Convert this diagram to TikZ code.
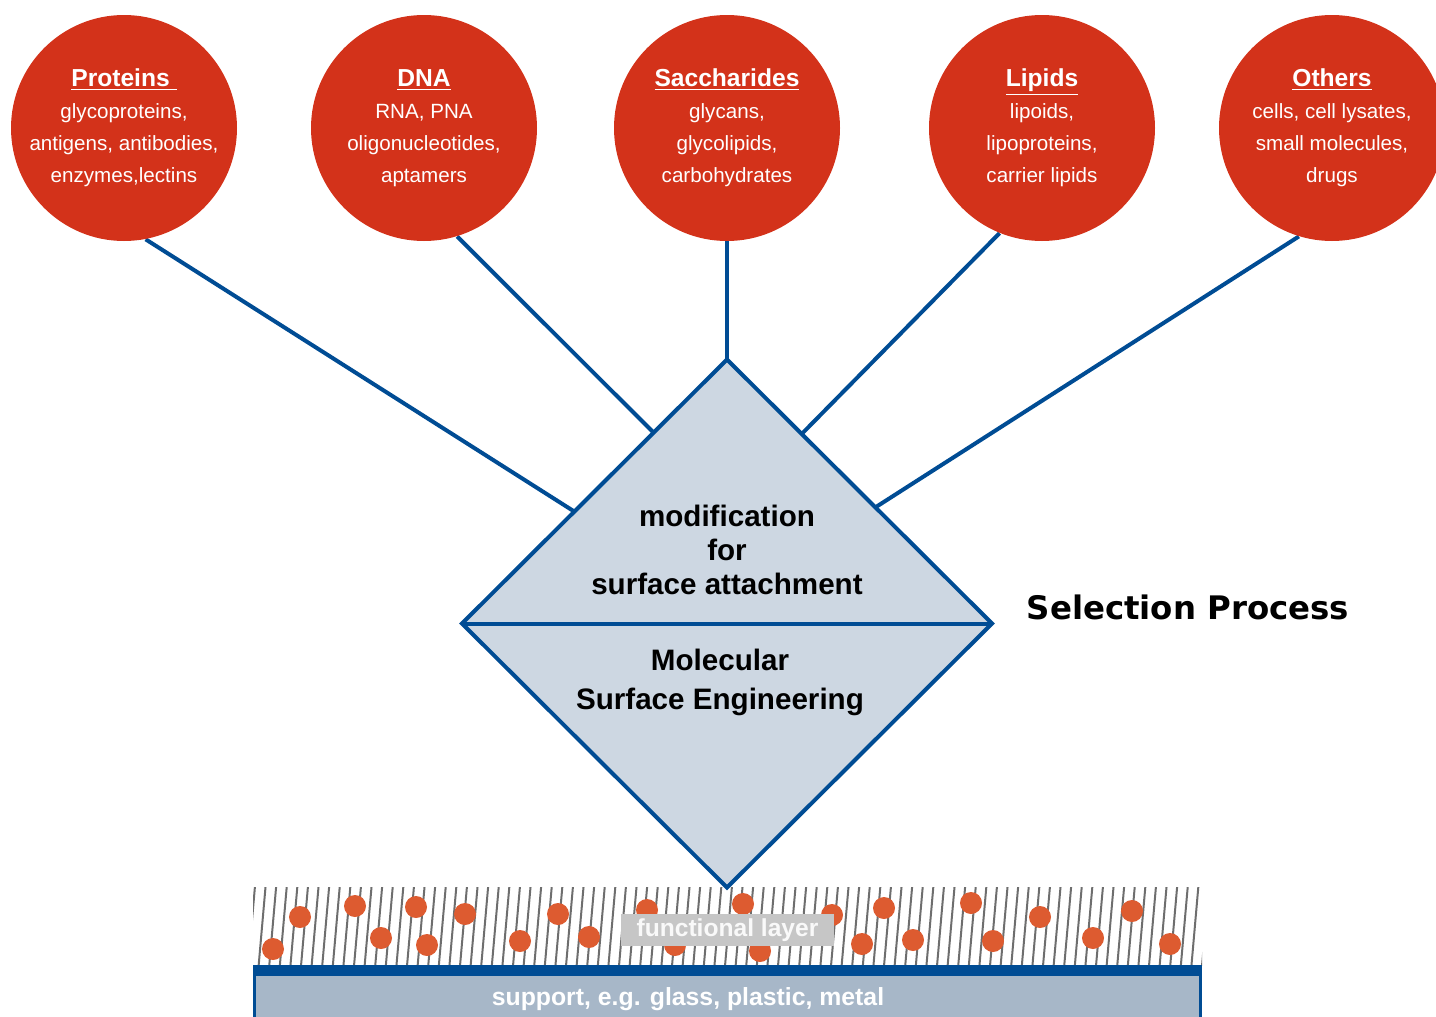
\documentclass[tikz,border=0pt]{standalone}
\usepackage{fontspec}
\setmainfont{Liberation Sans}
\newfontfamily\procfont{DejaVu Sans}
\usepackage{tikz}
\usetikzlibrary{shapes.geometric,calc,backgrounds}
\definecolor{molred}{HTML}{D3321A}
\definecolor{accent}{HTML}{004C94}
\definecolor{msefill}{HTML}{CDD7E2}
\definecolor{hatchgray}{HTML}{6E6E6E}
\definecolor{dotfill}{HTML}{DD5B30}
\definecolor{labelgray}{HTML}{C6C6C6}
\definecolor{supfill}{HTML}{A7B7C8}
\tikzset{
  % --- molecule classes (red discs) ---
  molclass/.style={circle, fill=molred, minimum size=113pt, inner sep=0pt,
                   text=white, align=center, font=\fontsize{10.3}{16}\selectfont},
  % --- connectors into the diamond ---
  link/.style={draw=accent, line width=2pt},
  % --- the diamond and its texts ---
  msebox/.style={diamond, draw=accent, line width=2pt, fill=msefill, aspect=1,
                 minimum width=265pt, minimum height=264pt, inner sep=0pt,
                 outer sep=0pt},
  msetext/.style={align=center, text=black, inner sep=0pt,
                  font=\bfseries\fontsize{14.8}{16.8}\selectfont},
  msetext2/.style={msetext, font=\bfseries\fontsize{14.8}{19.5}\selectfont},
  proclabel/.style={font=\procfont\bfseries\fontsize{16.2}{20}\selectfont,
                    inner sep=0pt},
  % --- substrate ---
  hatch/.style={draw=hatchgray, line width=1pt},
  dot/.style={fill=dotfill},
  layerlabel/.style={fill=labelgray, text=white!95!gray, inner sep=0pt,
                     minimum width=106.5pt, minimum height=16pt,
                     font=\bfseries\fontsize{12.3}{14}\selectfont},
  suplabel/.style={text=white, inner sep=0pt,
                   font=\bfseries\fontsize{12.4}{14}\selectfont},
}
\newcommand{\molhead}[1]{{\fontsize{12.3}{16}\selectfont\bfseries\underline{#1}}}

\begin{document}
\begin{tikzpicture}[x=0.5pt,y=-0.5pt]
  \useasboundingbox (0,0) rectangle (1436,1017);
  \clip (0,0) rectangle (1436,1017);

  % substrate: hatched functional layer with dots, support below
  \begin{scope}
    \clip (253,887) rectangle (1202,965);
    \foreach \k in {0,...,90}
      \draw[hatch] (248+\k*10.6,966) -- ++(7,-80);
  \end{scope}
  \foreach \x/\y in {273/949, 300/917, 355/906, 381/938, 416/907, 427/945,
                     465/914, 520/941, 558/914, 589/937, 647/910, 675/945,
                     743/904, 760/951, 832/915, 862/944, 884/908, 913/940,
                     971/903, 993/941, 1040/917, 1093/938, 1132/911, 1170/944}
    \fill[dot] (\x,\y) circle[radius=11];
  \node[layerlabel] (fl) at (727.5,930) {functional layer};
  \fill[accent] (253,965) rectangle (1202,976);
  \draw[draw=accent, line width=1.2pt, fill=supfill] (254.5,975) rectangle (1200.5,1030);
  \node[suplabel] (sup) at (688,999) {support, e.g. glass, plastic, metal};

  % molecule classes
  \node[molclass] (prot)  at (124,128)  {\molhead{Proteins\ }\\glycoproteins,\\antigens, antibodies,\\enzymes,lectins};
  \node[molclass] (dna)   at (424,128)  {\molhead{DNA}\\RNA, PNA\\oligonucleotides,\\aptamers};
  \node[molclass] (sacch) at (727,128)  {\molhead{Saccharides}\\glycans,\\glycolipids,\\carbohydrates};
  \node[molclass] (lip)   at (1042,128) {\molhead{Lipids}\\lipoids,\\lipoproteins,\\carrier lipids};
  \node[molclass] (oth)   at (1332,128) {\molhead{Others}\\cells, cell lysates,\\small molecules,\\drugs};

  % the diamond
  \node[msebox] (mse) at (727,623.5) {};
  \draw[link] (mse.west) -- (mse.east);
  \node[msetext]  (modt) at (727,550) {modification\\for\\surface attachment};
  \node[msetext2] (molt) at (720,682) {Molecular\\Surface Engineering};
  \node[proclabel] (sel) at (1188,607) {Selection Process};

  % connectors, kept under the discs and the diamond
  \begin{scope}[on background layer]
    \draw[link] (prot.-79)   -- ($(mse.west)!0.424!(mse.north)$);
    \draw[link] (dna.-73)    -- ($(mse.west)!0.723!(mse.north)$);
    \draw[link] (sacch.south) -- (mse.north);
    \draw[link] (lip.-112)   -- ($(mse.east)!0.718!(mse.north)$);
    \draw[link] (oth.-107)   -- ($(mse.east)!0.44!(mse.north)$);
  \end{scope}
\end{tikzpicture}
\end{document}
